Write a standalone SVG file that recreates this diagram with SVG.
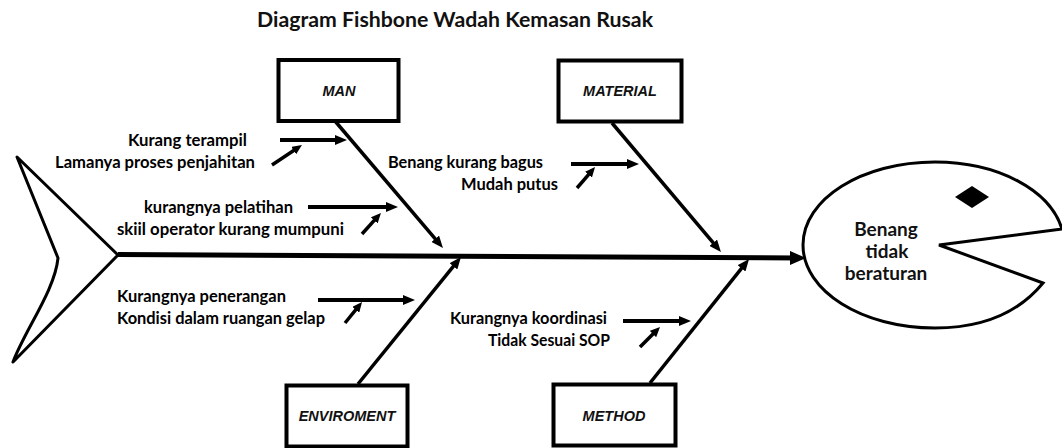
<svg xmlns="http://www.w3.org/2000/svg" width="1062" height="448" viewBox="0 0 1062 448">
<style>
  .t{font-family:Lato,"Open Sans","Liberation Sans",sans-serif;font-weight:bold;font-size:17px;fill:#000}
  .title{font-family:Lato,"Open Sans","Liberation Sans",sans-serif;font-weight:bold;font-size:20px;fill:#111}
  .lbl{font-family:"Liberation Sans",Arial,sans-serif;font-weight:bold;font-style:italic;font-size:14.5px;fill:#111}
  .head{font-family:Lato,"Open Sans","Liberation Sans",sans-serif;font-weight:bold;font-size:19px;fill:#111}
  .box{fill:#fff;stroke:#000;stroke-width:4}
  .bone{stroke:#000;stroke-width:3.5;fill:none}
  .harr{stroke:#000;stroke-width:4;fill:none}
  .darr{stroke:#000;stroke-width:3.5;fill:none}
  .outline{stroke:#000;stroke-width:3;fill:none;stroke-linejoin:round}
</style>
<defs>
  <marker id="arr" viewBox="0 0 12 10" markerUnits="userSpaceOnUse" markerWidth="12" markerHeight="10" refX="6" refY="5" orient="auto">
    <path d="M0,0 L12,5 L0,10 z" fill="#000"/>
  </marker>
  <marker id="arrs" viewBox="0 0 10 9" markerUnits="userSpaceOnUse" markerWidth="10" markerHeight="9" refX="5" refY="4.5" orient="auto">
    <path d="M0,0 L10,4.5 L0,9 z" fill="#000"/>
  </marker>
  <marker id="big" viewBox="0 0 16 14" markerUnits="userSpaceOnUse" markerWidth="16" markerHeight="14" refX="8" refY="7" orient="auto">
    <path d="M0,0 L16,7 L0,14 z" fill="#000"/>
  </marker>
</defs>

<text class="title" x="257" y="27" textLength="396" lengthAdjust="spacingAndGlyphs">Diagram Fishbone Wadah Kemasan Rusak</text>

<g id="tail">
  <path class="outline" d="M118,255 L17,157 L58,258 C55,290 25,330 13,362 L118,255"/>
</g>

<g id="connectors">
  <line x1="118" y1="254.5" x2="798" y2="258" stroke="#000" stroke-width="5" marker-end="url(#big)"/>
  <line class="bone" x1="335" y1="121" x2="439.1" y2="243.4" marker-end="url(#arr)"/>
  <line class="bone" x1="612" y1="123" x2="717.1" y2="247.4" marker-end="url(#arr)"/>
  <line class="bone" x1="358" y1="384" x2="457.2" y2="261.7" marker-end="url(#arr)"/>
  <line class="bone" x1="650" y1="383" x2="745.3" y2="263.7" marker-end="url(#arr)"/>
  <line class="harr" x1="280" y1="140" x2="341" y2="140" marker-end="url(#arr)"/>
  <line class="harr" x1="308" y1="207" x2="392" y2="207" marker-end="url(#arr)"/>
  <line class="harr" x1="571" y1="164" x2="633" y2="164" marker-end="url(#arr)"/>
  <line class="harr" x1="318" y1="300" x2="409" y2="300" marker-end="url(#arr)"/>
  <line class="harr" x1="623" y1="321" x2="685" y2="321" marker-end="url(#arr)"/>
  <line class="darr" x1="272" y1="165" x2="297.8" y2="147.8" marker-end="url(#arrs)"/>
  <line class="darr" x1="362" y1="234" x2="377.6" y2="216.7" marker-end="url(#arrs)"/>
  <line class="darr" x1="577" y1="188" x2="591.8" y2="170.8" marker-end="url(#arrs)"/>
  <line class="darr" x1="345" y1="323" x2="358.9" y2="305.9" marker-end="url(#arrs)"/>
  <line class="darr" x1="640" y1="347" x2="656.5" y2="330.5" marker-end="url(#arrs)"/>
</g>

<g id="man">
  <rect class="box" x="278.5" y="60" width="120" height="61"/>
  <text class="lbl" x="339" y="96" text-anchor="middle">MAN</text>
</g>
<g id="material">
  <rect class="box" x="558.5" y="60.5" width="123" height="61"/>
  <text class="lbl" x="620" y="96" text-anchor="middle">MATERIAL</text>
</g>
<g id="enviroment">
  <rect class="box" x="286.5" y="385.5" width="121" height="61"/>
  <text class="lbl" x="347" y="421" text-anchor="middle">ENVIROMENT</text>
</g>
<g id="method">
  <rect class="box" x="553.5" y="384.5" width="122" height="61"/>
  <text class="lbl" x="614" y="421" text-anchor="middle">METHOD</text>
</g>

<g id="cause-man">
  <text class="t" x="128" y="146" textLength="119" lengthAdjust="spacingAndGlyphs">Kurang terampil</text>
  <text class="t" x="55" y="168" textLength="200" lengthAdjust="spacingAndGlyphs">Lamanya proses penjahitan</text>
  <text class="t" x="144" y="213" textLength="149" lengthAdjust="spacingAndGlyphs">kurangnya pelatihan</text>
  <text class="t" x="117" y="235" textLength="227" lengthAdjust="spacingAndGlyphs">skiil operator kurang mumpuni</text>
</g>
<g id="cause-material">
  <text class="t" x="388" y="168" textLength="155" lengthAdjust="spacingAndGlyphs">Benang kurang bagus</text>
  <text class="t" x="461" y="190" textLength="97" lengthAdjust="spacingAndGlyphs">Mudah putus</text>
</g>
<g id="cause-enviroment">
  <text class="t" x="117" y="302" textLength="169" lengthAdjust="spacingAndGlyphs">Kurangnya penerangan</text>
  <text class="t" x="117" y="324" textLength="208" lengthAdjust="spacingAndGlyphs">Kondisi dalam ruangan gelap</text>
</g>
<g id="cause-method">
  <text class="t" x="450" y="324" textLength="157" lengthAdjust="spacingAndGlyphs">Kurangnya koordinasi</text>
  <text class="t" x="488" y="346" textLength="122" lengthAdjust="spacingAndGlyphs">Tidak Sesuai SOP</text>
</g>

<g id="head">
  <path d="M1062,229 C1050,190 998,162 935,162 C862,162 803,199 803,245 C803,291 862,328 935,328 C985,328 1020,311 1043,283 L939,245 Z" fill="#fff" stroke="#000" stroke-width="3" stroke-linejoin="miter"/>
  <polygon points="955,197 972,186 989,197 972,208" fill="#000"/>
  <text class="head" x="886" y="236" text-anchor="middle">Benang</text>
  <text class="head" x="887" y="258" text-anchor="middle">tidak</text>
  <text class="head" x="886" y="280" text-anchor="middle">beraturan</text>
</g>
</svg>
